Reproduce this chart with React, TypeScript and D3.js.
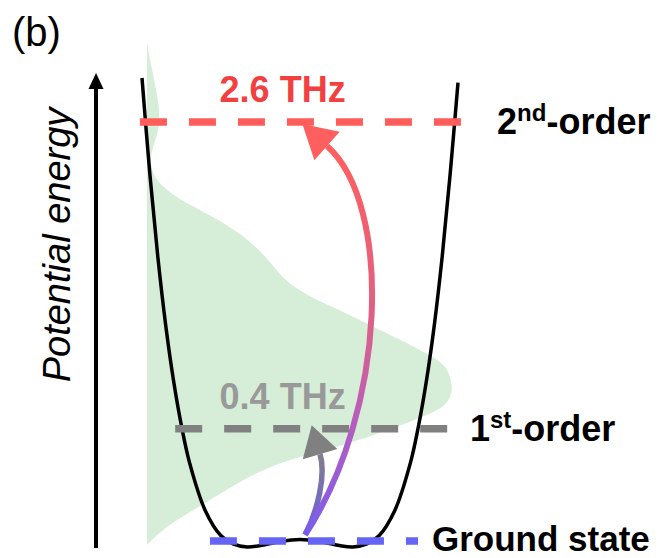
import React from 'react'
import * as d3 from 'd3'

// double-well potential (q = coordinate, E = energy)
const potentialQ = [-1.0, -0.95, -0.9, -0.85, -0.8, -0.75, -0.7, -0.6, -0.5, -0.42, -0.335, -0.25, -0.15, 0,
  0.15, 0.25, 0.335, 0.42, 0.5, 0.6, 0.7, 0.75, 0.8, 0.85, 0.9, 0.95, 1.0]
const potentialE = [1.0, 0.794, 0.619, 0.473, 0.354, 0.258, 0.181, 0.078, 0.024, 0.006, 0, 0.003, 0.010, 0.016,
  0.010, 0.003, 0, 0.006, 0.024, 0.078, 0.181, 0.258, 0.354, 0.473, 0.619, 0.794, 0.99]

// green distribution along the energy axis
const densityE = [1.075, 1.038, 0.996, 0.953, 0.917, 0.885, 0.853, 0.825, 0.8, 0.772, 0.74, 0.708, 0.67, 0.623,
  0.569, 0.533, 0.505, 0.435, 0.403, 0.384, 0.345, 0.313, 0.292, 0.264, 0.213, 0.179, 0.126, 0.096, 0.062, 0.032, 0.004]
const densityValue = [0, 0.01, 0.023, 0.036, 0.042, 0.036, 0.019, 0.01, 0.016, 0.042, 0.107, 0.205, 0.302, 0.383,
  0.442, 0.529, 0.627, 0.844, 0.935, 0.974, 0.994, 0.984, 0.951, 0.844, 0.627, 0.409, 0.269, 0.195, 0.107, 0.042, 0]

// energy levels
const levelMain = ['Ground state', '1', '2']
const levelSup = ['', 'st', 'nd']
const levelTail = ['', '-order', '-order']
const levelEnergy = [0.013, 0.252, 0.906]
const levelStart = [-0.57, -0.79, -1.013]
const levelEnd = [0.747, 0.949, 1.032]
const levelColor = ['#6464f5', '#808080', '#ff5c5c']

// transitions (control points of the arrows, in q / E)
const transitionLabels = ['0.4 THz', '2.6 THz']
const transitionLevel = [1, 2]
const transitionColor = ['#999999', '#f23f3f']
const arrowSmallQ = [0.032, 0.114, 0.165, 0.127]
const arrowSmallE = [0.026, 0.079, 0.154, 0.198]
const arrowBigQ = [0.032, 0.55, 0.59, 0.171]
const arrowBigE = [0.026, 0.292, 0.729, 0.855]

const W = 670
const H = 558
const font = '"Liberation Sans", Arial, Helvetica, sans-serif'

const x = d3.scaleLinear().domain([-1, 1]).range([142, 458])
const y = d3.scaleLinear().domain([0, 1]).range([547, 78])
const xd = d3.scaleLinear().domain([0, 1]).range([147, 455])

function arrowPath(qs: number[], es: number[], len: number, half: number) {
  const p = qs.map((q, i) => [x(q), y(es[i])])
  const path = d3.path()
  path.moveTo(p[0][0], p[0][1])
  path.bezierCurveTo(p[1][0], p[1][1], p[2][0], p[2][1], p[3][0], p[3][1])
  const dx = p[3][0] - p[2][0]
  const dy = p[3][1] - p[2][1]
  const n = Math.hypot(dx, dy)
  const ux = dx / n, uy = dy / n
  const tip = [p[3][0] + ux * len, p[3][1] + uy * len]
  const a = [p[3][0] - uy * half, p[3][1] + ux * half]
  const b = [p[3][0] + uy * half, p[3][1] - ux * half]
  return { shaft: path.toString(), head: `M${tip[0]},${tip[1]}L${a[0]},${a[1]}L${b[0]},${b[1]}Z` }
}

const App = () => {
  const potential = d3.line<number>()
    .x((q) => x(q))
    .y((q, i) => y(potentialE[i]))
    .curve(d3.curveCatmullRom)(potentialQ)

  const density = d3.area<number>()
    .y((e) => y(e))
    .x0(xd(0))
    .x1((e, i) => xd(densityValue[i]))
    .curve(d3.curveBasis)(densityE)

  const small = arrowPath(arrowSmallQ, arrowSmallE, 30, 18)
  const big = arrowPath(arrowBigQ, arrowBigE, 33, 19)

  return (
    <svg width={W} height={H} style={{ position: 'absolute', left: 0, top: 0 }} fontFamily={font}>
      <defs>
        <linearGradient id="bigGrad" gradientUnits="userSpaceOnUse" x1={0} x2={0} y1={y(arrowBigE[0])} y2={y(arrowBigE[3])}>
          <stop offset="0%" stopColor="#7a5cec" />
          <stop offset="20%" stopColor="#a65cce" />
          <stop offset="40%" stopColor="#c95fa6" />
          <stop offset="60%" stopColor="#e2607f" />
          <stop offset="100%" stopColor="#ff5f5f" />
        </linearGradient>
        <linearGradient id="smallGrad" gradientUnits="userSpaceOnUse" x1={0} x2={0} y1={y(arrowSmallE[0])} y2={y(arrowSmallE[3])}>
          <stop offset="0%" stopColor="#6a5ee6" />
          <stop offset="100%" stopColor="#80808a" />
        </linearGradient>
      </defs>

      <text x={12} y={46} fontSize={40} fontFamily={font}>(b)</text>

      {/* energy axis */}
      <line x1={96} x2={96} y1={548} y2={86} stroke="#000" strokeWidth={4} />
      <path d="M96,73L88.5,89L103.5,89Z" fill="#000" />
      <text transform="translate(70,245) rotate(-90)" textAnchor="middle" fontSize={38} fontStyle="italic">
        Potential energy
      </text>

      <path d={density || ''} fill="#d6eed8" />
      <path d={potential || ''} fill="none" stroke="#000" strokeWidth={3.5} />

      {levelEnergy.map((e, i) => (
        <line key={i} x1={x(levelStart[i])} x2={x(levelEnd[i])} y1={y(e)} y2={y(e)}
          stroke={levelColor[i]} strokeWidth={7.5} strokeDasharray="27 22" />
      ))}

      <path d={small.shaft} fill="none" stroke="url(#smallGrad)" strokeWidth={5.5} />
      <path d={small.head} fill="#808080" />
      <path d={big.shaft} fill="none" stroke="url(#bigGrad)" strokeWidth={6} />
      <path d={big.head} fill="#ff5f5f" />

      {transitionLabels.map((t, i) => (
        <text key={t} x={x(-0.11)} y={y(levelEnergy[transitionLevel[i]]) - 20} textAnchor="middle"
          fontSize={36} fontWeight="bold" fill={transitionColor[i]}>{t}</text>
      ))}

      {levelMain.map((m, i) => (
        <text key={i} x={x(levelEnd[i]) + [14, 20, 34][i]} y={y(levelEnergy[i]) + [10, 12, 12][i]}
          fontSize={[35, 36, 36][i]} fontWeight="bold" fill="#000">
          {m}
          {levelSup[i] && <tspan fontSize={24} dy={-13}>{levelSup[i]}</tspan>}
          {levelTail[i] && <tspan dy={13}>{levelTail[i]}</tspan>}
        </text>
      ))}
    </svg>
  )
}

export default App
